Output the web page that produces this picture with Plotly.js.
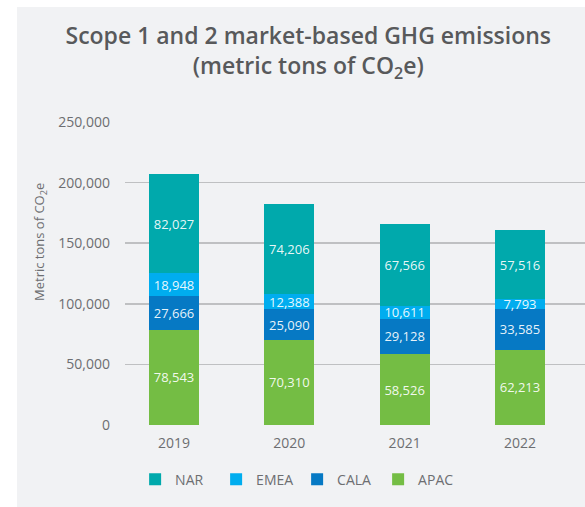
<!DOCTYPE html>
<html>
<head>
<meta charset="utf-8">
<script src="https://cdn.plot.ly/plotly-3.0.1.min.js"></script>
<style>html,body{margin:0;padding:0;background:#fff;}#chart{width:585px;height:507px;}</style>
</head>
<body>
<div id="chart"></div>
<script>
const years = ['2019', '2020', '2021', '2022'];
const apac = [78543, 70310, 58526, 62213];
const cala = [27666, 25090, 29128, 33585];
const emea = [18948, 12388, 10611, 7793];
const nar = [82027, 74206, 67566, 57516];
const yTicks = [0, 50000, 100000, 150000, 200000, 250000];
const yTickText = ['0', '50,000', '100,000', '150,000', '200,000', '250,000'];

const fmt = v => v.toLocaleString('en-US');
const FONT = '"Open Sans", "Noto Sans", sans-serif';

function series(name, vals, color) {
  return {
    type: 'bar', name: name, x: years, y: vals,
    marker: {color: color, line: {width: 0}},
    width: 0.434,
    text: vals.map(fmt), texttemplate: '%{text}',
    textposition: 'inside', insidetextanchor: 'middle',
    constraintext: 'none', textangle: 0,
    textfont: {family: FONT, size: 13, color: 'rgba(255,255,255,0.92)'},
    hoverinfo: 'x+y+name'
  };
}

const data = [
  series('APAC', apac, '#74bd44'),
  series('CALA', cala, '#0679c4'),
  series('EMEA', emea, '#00adef'),
  series('NAR', nar, '#00a9ac')
];

const layout = {
  width: 585, height: 507,
  margin: {l: 125, r: 0, t: 122, b: 82, pad: 0},
  paper_bgcolor: '#ffffff',
  plot_bgcolor: 'rgba(0,0,0,0)',
  barmode: 'stack',
  font: {family: FONT, color: '#6d6e71', size: 14},
  title: {
    text: 'Scope 1 and 2 market-based GHG emissions<br>(metric tons of CO<sub>2</sub>e)',
    font: {family: FONT, size: 23, weight: 600, color: '#58595b'},
    x: 0.527, xanchor: 'center', xref: 'container',
    y: 1 - 44 / 507, yanchor: 'middle', yref: 'container'
  },
  xaxis: {
    type: 'category', range: [-0.425, 3.564],
    showgrid: false, zeroline: false, showline: false,
    ticks: '', ticklabelstandoff: 8,
    tickfont: {family: FONT, size: 14, color: '#6d6e71'},
    fixedrange: true
  },
  yaxis: {
    range: [0, 250000], tickvals: yTicks, ticktext: yTickText,
    showgrid: true, gridcolor: '#bfc0c2', gridwidth: 1.5,
    zeroline: false, showline: false, ticks: '',
    ticklabelstandoff: 14,
    tickfont: {family: FONT, size: 14, color: '#6d6e71'},
    fixedrange: true
  },
  showlegend: true,
  legend: {
    orientation: 'h', traceorder: 'reversed',
    x: 0.022, xanchor: 'left', y: -0.18, yanchor: 'middle',
    font: {family: FONT, size: 14, color: '#6d6e71'},
    bgcolor: 'rgba(0,0,0,0)', itemclick: false, itemdoubleclick: false,
    entrywidth: 36, entrywidthmode: 'pixels'
  },
  shapes: [{
    type: 'rect', layer: 'below', xref: 'paper', yref: 'paper',
    x0: (17 - 125) / 460, x1: 1.01, y0: -0.3, y1: (425 - 7) / 303,
    fillcolor: '#f1f2f4', line: {width: 0}
  }],
  annotations: [{
    text: 'Metric tons of CO<sub>2</sub>e', textangle: -90,
    xref: 'paper', yref: 'paper', x: (40 - 125) / 460, y: (425 - 242) / 303,
    xanchor: 'center', yanchor: 'middle', showarrow: false,
    font: {family: FONT, size: 13, color: '#6d6e71'}
  }]
};

Plotly.newPlot('chart', data, layout, {displayModeBar: false, staticPlot: true});
</script>
</body>
</html>
